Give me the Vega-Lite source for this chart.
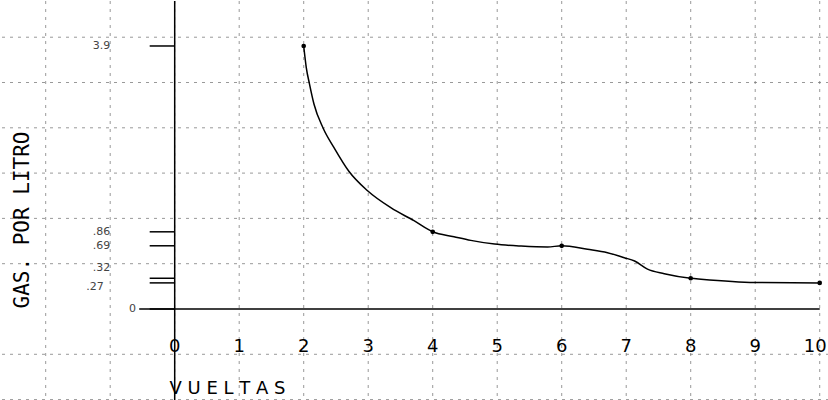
{
  "$schema": "https://vega.github.io/schema/vega-lite/v6.json",
  "width": 828,
  "height": 400,
  "padding": 0,
  "background": "white",
  "config": {"view": {"stroke": null}},
  "datasets": {
    "curva": [
      {"vueltas": 2.0, "gas": 3.9, "medido": true},
      {"vueltas": 2.04, "gas": 3.46, "medido": false},
      {"vueltas": 2.09, "gas": 3.14, "medido": false},
      {"vueltas": 2.16, "gas": 2.77, "medido": false},
      {"vueltas": 2.30, "gas": 2.36, "medido": false},
      {"vueltas": 2.47, "gas": 2.04, "medido": false},
      {"vueltas": 2.70, "gas": 1.68, "medido": false},
      {"vueltas": 2.99, "gas": 1.40, "medido": false},
      {"vueltas": 3.35, "gas": 1.17, "medido": false},
      {"vueltas": 3.71, "gas": 1.00, "medido": false},
      {"vueltas": 4.0, "gas": 0.86, "medido": true},
      {"vueltas": 4.33, "gas": 0.80, "medido": false},
      {"vueltas": 4.59, "gas": 0.755, "medido": false},
      {"vueltas": 4.96, "gas": 0.71, "medido": false},
      {"vueltas": 5.37, "gas": 0.687, "medido": false},
      {"vueltas": 5.78, "gas": 0.676, "medido": false},
      {"vueltas": 6.0, "gas": 0.69, "medido": true},
      {"vueltas": 6.40, "gas": 0.648, "medido": false},
      {"vueltas": 6.71, "gas": 0.608, "medido": false},
      {"vueltas": 6.97, "gas": 0.55, "medido": false},
      {"vueltas": 7.13, "gas": 0.512, "medido": false},
      {"vueltas": 7.33, "gas": 0.42, "medido": false},
      {"vueltas": 7.59, "gas": 0.37, "medido": false},
      {"vueltas": 8.0, "gas": 0.32, "medido": true},
      {"vueltas": 8.16, "gas": 0.31, "medido": false},
      {"vueltas": 9.0, "gas": 0.275, "medido": false},
      {"vueltas": 10.0, "gas": 0.27, "medido": true}
    ],
    "rejilla_x": [
      {"vueltas": -2}, {"vueltas": -1}, {"vueltas": 0}, {"vueltas": 1}, {"vueltas": 2}, {"vueltas": 3}, {"vueltas": 4},
      {"vueltas": 5}, {"vueltas": 6}, {"vueltas": 7}, {"vueltas": 8}, {"vueltas": 9}, {"vueltas": 10}
    ],
    "rejilla_y": [
      {"gas": -1.0298}, {"gas": -0.4817}, {"gas": 0.4817}, {"gas": 1.0298}, {"gas": 1.6531},
      {"gas": 2.3624}, {"gas": 3.1692}, {"gas": 4.0871}
    ],
    "marcas_x": [
      {"vueltas": 0, "texto": "0"}, {"vueltas": 1, "texto": "1"}, {"vueltas": 2, "texto": "2"}, {"vueltas": 3, "texto": "3"},
      {"vueltas": 4, "texto": "4"}, {"vueltas": 5, "texto": "5"}, {"vueltas": 6, "texto": "6"}, {"vueltas": 7, "texto": "7"},
      {"vueltas": 8, "texto": "8"}, {"vueltas": 9, "texto": "9"}, {"vueltas": 10, "texto": "10"}
    ],
    "marcas_y": [
      {"gas": 0, "texto": "0"}, {"gas": 0.27, "texto": ".27"}, {"gas": 0.32, "texto": ".32"},
      {"gas": 0.69, "texto": ".69"}, {"gas": 0.86, "texto": ".86"}, {"gas": 3.9, "texto": "3.9"}
    ],
    "papel": [{"uno": 1}]
  },
  "layer": [
    {
      "data": {"name": "rejilla_x"},
      "mark": {"type": "rule", "color": "#777", "strokeWidth": 1, "strokeDash": [3, 5], "opacity": 0.75},
      "encoding": {
        "x": {"field": "vueltas", "type": "quantitative", "scale": {"domain": [-2.693, 10.144], "nice": false, "zero": false}, "axis": null}
      }
    },
    {
      "data": {"name": "rejilla_y"},
      "mark": {"type": "rule", "color": "#777", "strokeWidth": 1, "strokeDash": [3, 5], "opacity": 0.75},
      "encoding": {
        "y": {"field": "gas", "type": "quantitative", "scale": {"type": "symlog", "constant": 3.5, "domain": [-1.048, 4.911], "nice": false, "zero": false}, "axis": null}
      }
    },
    {
      "data": {"name": "papel"},
      "mark": {"type": "rule", "color": "black", "strokeWidth": 1.5},
      "encoding": {
        "x": {"datum": 0, "type": "quantitative", "scale": {"domain": [-2.693, 10.144], "nice": false, "zero": false}, "axis": null}
      }
    },
    {
      "data": {"name": "papel"},
      "mark": {"type": "rule", "color": "black", "strokeWidth": 1.5},
      "encoding": {
        "x": {"datum": -0.55, "type": "quantitative", "scale": {"domain": [-2.693, 10.144], "nice": false, "zero": false}, "axis": null},
        "x2": {"datum": 10},
        "y": {"datum": 0, "type": "quantitative", "scale": {"type": "symlog", "constant": 3.5, "domain": [-1.048, 4.911], "nice": false, "zero": false}, "axis": null}
      }
    },
    {
      "data": {"name": "marcas_y"},
      "mark": {"type": "rule", "color": "black", "strokeWidth": 1.5},
      "encoding": {
        "x": {"datum": -0.388, "type": "quantitative", "scale": {"domain": [-2.693, 10.144], "nice": false, "zero": false}, "axis": null},
        "x2": {"datum": 0},
        "y": {"field": "gas", "type": "quantitative", "scale": {"type": "symlog", "constant": 3.5, "domain": [-1.048, 4.911], "nice": false, "zero": false}, "axis": null}
      }
    },
    {
      "data": {"name": "marcas_y"},
      "transform": [{"filter": "datum.gas >= 0.6"}],
      "mark": {"type": "text", "font": "DejaVu Sans", "fontSize": 11, "color": "#444", "align": "right", "baseline": "middle"},
      "encoding": {
        "x": {"datum": -1.0, "type": "quantitative", "scale": {"domain": [-2.693, 10.144], "nice": false, "zero": false}, "axis": null},
        "y": {"field": "gas", "type": "quantitative", "scale": {"type": "symlog", "constant": 3.5, "domain": [-1.048, 4.911], "nice": false, "zero": false}, "axis": null},
        "text": {"field": "texto"}
      }
    },
    {
      "data": {"name": "marcas_y"},
      "transform": [{"filter": "datum.gas == 0.32"}],
      "mark": {"type": "text", "font": "DejaVu Sans", "fontSize": 11, "color": "#444", "align": "right", "baseline": "middle", "dy": -10},
      "encoding": {
        "x": {"datum": -1.0, "type": "quantitative", "scale": {"domain": [-2.693, 10.144], "nice": false, "zero": false}, "axis": null},
        "y": {"field": "gas", "type": "quantitative", "scale": {"type": "symlog", "constant": 3.5, "domain": [-1.048, 4.911], "nice": false, "zero": false}, "axis": null},
        "text": {"field": "texto"}
      }
    },
    {
      "data": {"name": "marcas_y"},
      "transform": [{"filter": "datum.gas == 0.27"}],
      "mark": {"type": "text", "font": "DejaVu Sans", "fontSize": 11, "color": "#444", "align": "right", "baseline": "middle", "dy": 4},
      "encoding": {
        "x": {"datum": -1.1, "type": "quantitative", "scale": {"domain": [-2.693, 10.144], "nice": false, "zero": false}, "axis": null},
        "y": {"field": "gas", "type": "quantitative", "scale": {"type": "symlog", "constant": 3.5, "domain": [-1.048, 4.911], "nice": false, "zero": false}, "axis": null},
        "text": {"field": "texto"}
      }
    },
    {
      "data": {"name": "marcas_y"},
      "transform": [{"filter": "datum.gas == 0"}],
      "mark": {"type": "text", "font": "DejaVu Sans", "fontSize": 11, "color": "#444", "align": "right", "baseline": "middle"},
      "encoding": {
        "x": {"datum": -0.6, "type": "quantitative", "scale": {"domain": [-2.693, 10.144], "nice": false, "zero": false}, "axis": null},
        "y": {"field": "gas", "type": "quantitative", "scale": {"type": "symlog", "constant": 3.5, "domain": [-1.048, 4.911], "nice": false, "zero": false}, "axis": null},
        "text": {"field": "texto"}
      }
    },
    {
      "data": {"name": "marcas_x"},
      "transform": [{"filter": "datum.vueltas < 10"}],
      "mark": {"type": "text", "font": "DejaVu Sans", "fontSize": 18, "color": "black", "align": "center", "baseline": "middle"},
      "encoding": {
        "x": {"field": "vueltas", "type": "quantitative", "scale": {"domain": [-2.693, 10.144], "nice": false, "zero": false}, "axis": null},
        "y": {"datum": -0.4, "type": "quantitative", "scale": {"type": "symlog", "constant": 3.5, "domain": [-1.048, 4.911], "nice": false, "zero": false}, "axis": null},
        "text": {"field": "texto"}
      }
    },
    {
      "data": {"name": "marcas_x"},
      "transform": [{"filter": "datum.vueltas == 10"}],
      "mark": {"type": "text", "font": "DejaVu Sans", "fontSize": 18, "color": "black", "align": "right", "baseline": "middle", "dx": 7},
      "encoding": {
        "x": {"field": "vueltas", "type": "quantitative", "scale": {"domain": [-2.693, 10.144], "nice": false, "zero": false}, "axis": null},
        "y": {"datum": -0.4, "type": "quantitative", "scale": {"type": "symlog", "constant": 3.5, "domain": [-1.048, 4.911], "nice": false, "zero": false}, "axis": null},
        "text": {"field": "texto"}
      }
    },
    {
      "data": {"name": "papel"},
      "mark": {"type": "text", "text": "GAS. POR LITRO", "angle": 270, "font": "DejaVu Sans Mono", "fontSize": 21, "color": "black", "align": "center", "baseline": "middle"},
      "encoding": {
        "x": {"datum": -2.352, "type": "quantitative", "scale": {"domain": [-2.693, 10.144], "nice": false, "zero": false}, "axis": null},
        "y": {"datum": 1.009, "type": "quantitative", "scale": {"type": "symlog", "constant": 3.5, "domain": [-1.048, 4.911], "nice": false, "zero": false}, "axis": null}
      }
    },
    {
      "data": {"name": "papel"},
      "mark": {"type": "text", "text": "V  U  E  L  T  A  S", "font": "DejaVu Sans", "fontSize": 18, "color": "black", "align": "left", "baseline": "middle"},
      "encoding": {
        "x": {"datum": -0.08, "type": "quantitative", "scale": {"domain": [-2.693, 10.144], "nice": false, "zero": false}, "axis": null},
        "y": {"datum": -0.895, "type": "quantitative", "scale": {"type": "symlog", "constant": 3.5, "domain": [-1.048, 4.911], "nice": false, "zero": false}, "axis": null}
      }
    },
    {
      "data": {"name": "curva"},
      "mark": {"type": "line", "interpolate": "monotone", "color": "black", "strokeWidth": 1.5},
      "encoding": {
        "x": {"field": "vueltas", "type": "quantitative", "scale": {"domain": [-2.693, 10.144], "nice": false, "zero": false}, "axis": null},
        "y": {"field": "gas", "type": "quantitative", "scale": {"type": "symlog", "constant": 3.5, "domain": [-1.048, 4.911], "nice": false, "zero": false}, "axis": null}
      }
    },
    {
      "data": {"name": "curva"},
      "transform": [{"filter": "datum.medido"}],
      "mark": {"type": "circle", "color": "black", "size": 22, "opacity": 1},
      "encoding": {
        "x": {"field": "vueltas", "type": "quantitative", "scale": {"domain": [-2.693, 10.144], "nice": false, "zero": false}, "axis": null},
        "y": {"field": "gas", "type": "quantitative", "scale": {"type": "symlog", "constant": 3.5, "domain": [-1.048, 4.911], "nice": false, "zero": false}, "axis": null}
      }
    }
  ]
}
